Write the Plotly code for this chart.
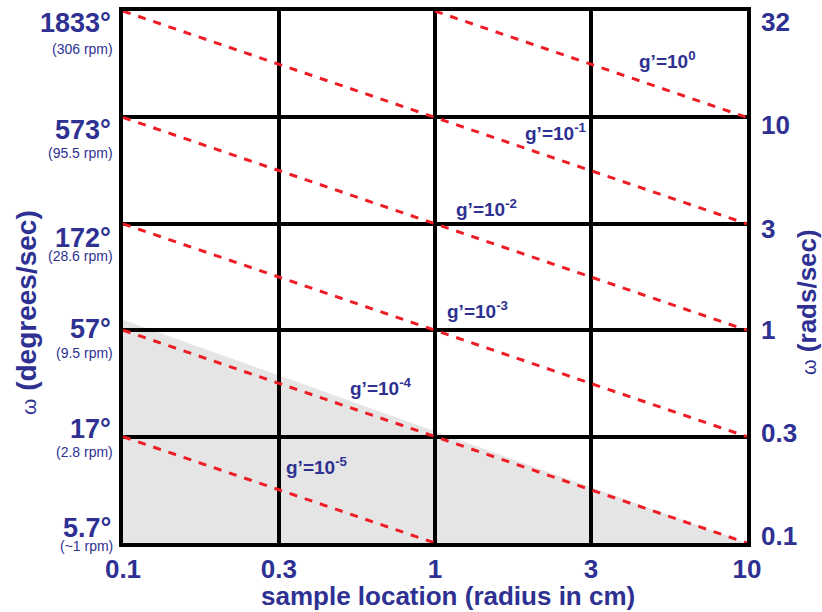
import numpy as np
import plotly.graph_objects as go

NAVY = "#2e3192"
FONT = "Liberation Sans, Arial, sans-serif"

# axis ticks (half-decade steps)
radius_ticks = [0.1, 0.316, 1, 3.16, 10]
radius_text = ["0.1", "0.3", "1", "3", "10"]
omega_ticks = [0.1, 0.316, 1, 3.16, 10, 31.6]
omega_text = ["0.1", "0.3", "1", "3", "10", "32"]
deg_text = ["5.7°", "17°", "57°", "172°", "573°", "1833°"]
rpm_text = ["(~1 rpm)", "(2.8 rpm)", "(9.5 rpm)", "(28.6 rpm)", "(95.5 rpm)", "(306 rpm)"]

# constant g' lines: end points
g_exp = [0, -1, -2, -3, -4, -5]
line_r0 = [1, 0.1, 0.1, 0.1, 0.1, 0.1]
line_r1 = [10, 10, 10, 10, 10, 1]
line_w0 = [31.6, 31.6, 10, 3.16, 1, 0.316]
line_w1 = [10, 3.16, 1, 0.316, 0.1, 0.1]
label_r = [5.55, 2.45, 1.46, 1.37, 0.67, 0.42]
label_w = [18.6, 8.55, 3.76, 1.24, 0.54, 0.23]

# shaded region
shade_r = [0.1, 0.1, 10]
shade_w = [0.1, 1.12, 0.1]

fig = go.Figure()

fig.add_trace(go.Scatter(
    x=shade_r, y=shade_w, fill="toself", mode="none",
    fillcolor="rgba(0,0,0,0.1)", hoverinfo="skip", showlegend=False,
))

for i in range(len(g_exp)):
    fig.add_trace(go.Scatter(
        x=[line_r0[i], line_r1[i]], y=[line_w0[i], line_w1[i]],
        mode="lines", line=dict(color="#ee1c24", width=3, dash="8px,8px"),
        showlegend=False,
    ))
    fig.add_annotation(
        x=np.log10(label_r[i]), y=np.log10(label_w[i]),
        text=f"<b>g’=10<sup>{g_exp[i]}</sup></b>", showarrow=False,
        font=dict(size=19, color=NAVY, family=FONT),
    )

# left labels in degrees/sec with rpm underneath, right labels in rads/sec
deg_shift = [15, 8, 1, -14, -13, -12]
rpm_shift = [-3, -15, -23, -32, -36, -38]
rad_shift = [7, 4, 0, -5, -8, -11]
for i in range(len(omega_ticks)):
    y = np.log10(omega_ticks[i])
    fig.add_annotation(
        xref="paper", x=0, xanchor="right", xshift=-10, y=y, yshift=deg_shift[i],
        text=f"<b>{deg_text[i]}</b>", showarrow=False,
        font=dict(size=27, color=NAVY, family=FONT),
    )
    fig.add_annotation(
        xref="paper", x=0, xanchor="right", xshift=-8, y=y, yshift=rpm_shift[i],
        text=rpm_text[i], showarrow=False,
        font=dict(size=14, color=NAVY, family=FONT),
    )
    fig.add_annotation(
        xref="paper", x=1, xanchor="left", xshift=12, y=y, yshift=rad_shift[i],
        text=f"<b>{omega_text[i]}</b>", showarrow=False,
        font=dict(size=26, color=NAVY, family=FONT),
    )

fig.add_annotation(
    xref="paper", yref="paper", x=0, y=0.5, xshift=-97, yshift=-36,
    xanchor="center", yanchor="middle",
    text="<span style='font-size:21px'>ω</span> <b>(degrees/sec)</b>",
    textangle=-90, showarrow=False,
    font=dict(size=28, color=NAVY, family=FONT),
)
fig.add_annotation(
    xref="paper", yref="paper", x=1, y=0.5, xshift=60, yshift=-25,
    xanchor="center", yanchor="middle",
    text="<span style='font-size:20px'>ω</span> <b>(rads/sec)</b>",
    textangle=-90, showarrow=False,
    font=dict(size=26, color=NAVY, family=FONT),
)
fig.add_annotation(
    xref="paper", yref="paper", x=0.5, y=0, xshift=13, yshift=-53,
    xanchor="center", yanchor="middle",
    text="<b>sample location (radius in cm)</b>", showarrow=False,
    font=dict(size=26, color=NAVY, family=FONT),
)

grid = dict(showgrid=True, gridcolor="black", gridwidth=3.5, zeroline=False,
            showline=True, linecolor="black", linewidth=3.5, mirror=True, ticks="",
            automargin=False)

fig.update_layout(
    width=822, height=612,
    margin=dict(l=123, r=75, t=11, b=69),
    paper_bgcolor="white", plot_bgcolor="white",
    font=dict(family=FONT, color=NAVY),
    xaxis=dict(type="log", range=[-1, 1], tickvals=radius_ticks,
               ticktext=[f"<b>{t}</b>" for t in radius_text],
               tickfont=dict(size=26, color=NAVY), ticklabelstandoff=0,
               **grid),
    yaxis=dict(type="log", range=[-1, 1.5], tickvals=omega_ticks,
               showticklabels=False, **grid),
)

fig.write_html("out.html", config={"displayModeBar": False},
               post_script="document.body.style.margin='0';")
